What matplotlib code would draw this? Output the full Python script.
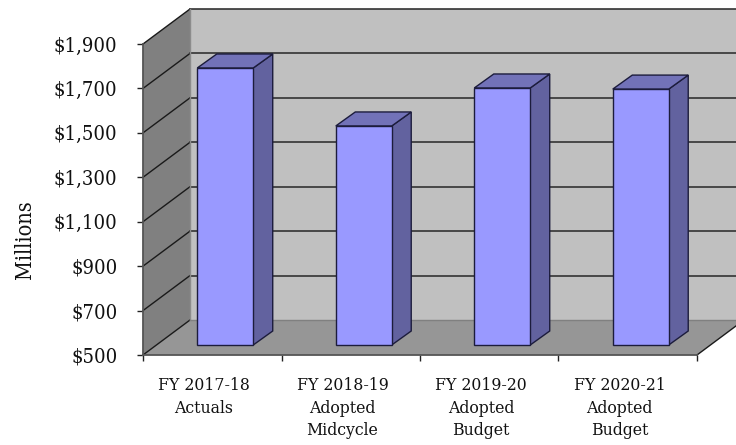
import matplotlib
matplotlib.use("Agg")
import matplotlib.pyplot as plt
from matplotlib.patches import Polygon
from matplotlib.lines import Line2D
from matplotlib.transforms import IdentityTransform

categories = ["FY 2017-18\nActuals", "FY 2018-19\nAdopted\nMidcycle",
              "FY 2019-20\nAdopted\nBudget", "FY 2020-21\nAdopted\nBudget"]
values = [1747, 1486, 1657, 1652]
y_ticks = [500, 700, 900, 1100, 1300, 1500, 1700, 1900]

W, H = 736, 445
# depth of the fake 3d box and of the bars, in pixels
box_dx, box_dy = 47, 35
bar_off_x, bar_off_y = 13, 10
bar_dx, bar_dy = 19.5, 14
bar_width = 0.404

plt.rcParams["font.family"] = ["DejaVu Serif"]
plt.rcParams["font.stretch"] = "condensed"

fig = plt.figure(figsize=(W / 100, H / 100), dpi=100)
ax = fig.add_axes([143 / W, 1 - 355 / H, 554 / W, 311 / H])
ax.set_xlim(0, 4)
ax.set_ylim(500, 1900)
ax.patch.set_visible(False)
px = IdentityTransform()


def pt(x, v, dx=0, dy=0):
    # data position pushed back by a pixel offset
    a, b = ax.transData.transform((x, v))
    return (a + dx, b + dy)


def face(pts, color, edge="none", lw=0.0, z=1):
    ax.add_patch(Polygon(pts, closed=True, facecolor=color, edgecolor=edge, linewidth=lw,
                         transform=px, clip_on=False, zorder=z))


def line(p, q, color, lw=1.0, z=2):
    ax.add_line(Line2D([p[0], q[0]], [p[1], q[1]], color=color, linewidth=lw,
                       transform=px, clip_on=False, zorder=z))


x_far = 4.2

# back wall, left wall, floor
face([pt(0, 500, box_dx, box_dy), pt(x_far, 500, box_dx, box_dy),
      pt(x_far, 1900, box_dx, box_dy), pt(0, 1900, box_dx, box_dy)], "#c0c0c0")
face([pt(0, 500), pt(0, 500, box_dx, box_dy), pt(0, 1900, box_dx, box_dy), pt(0, 1900)], "#808080")
face([pt(0, 500), pt(4, 500), pt(4, 500, box_dx, box_dy), pt(0, 500, box_dx, box_dy)], "#969696")

# gridlines run across the left wall and the back wall
for v in y_ticks[1:]:
    line(pt(0, v), pt(0, v, box_dx, box_dy), "#1a1a1a", 1.0)
    line(pt(0, v, box_dx, box_dy), pt(x_far, v, box_dx, box_dy), "#333333", 1.2)
line(pt(0, 500), pt(0, 500, box_dx, box_dy), "#1a1a1a", 1.0)
line(pt(0, 500, box_dx, box_dy), pt(0, 1900, box_dx, box_dy), "#8c8c8c", 1.0)
line(pt(0, 500, box_dx, box_dy), pt(4, 500, box_dx, box_dy), "#808080", 1.0)
line(pt(4, 500), pt(4, 500, box_dx, box_dy), "#1a1a1a", 1.0)

# bars
for i, val in enumerate(values):
    x0 = i + 0.5 - bar_width / 2
    x1 = i + 0.5 + bar_width / 2
    ox, oy = bar_off_x, bar_off_y
    a = pt(x0, 500, ox, oy)
    b = pt(x1, 500, ox, oy)
    c = pt(x1, val, ox, oy)
    d = pt(x0, val, ox, oy)
    shift = lambda p: (p[0] + bar_dx, p[1] + bar_dy)
    edge = "#1c1c3c"
    face([b, shift(b), shift(c), c], "#62629f", edge, 1.0, 3)
    face([d, c, shift(c), shift(d)], "#7272b8", edge, 1.0, 3)
    face([a, b, c, d], "#9999ff", edge, 1.0, 4)

# axes
for side in ("top", "right"):
    ax.spines[side].set_visible(False)
for side in ("left", "bottom"):
    ax.spines[side].set_color("#555555")
    ax.spines[side].set_linewidth(1.3)
    ax.spines[side].set_zorder(2)
ax.set_yticks(y_ticks)
ax.set_yticklabels([f"${v:,}" for v in y_ticks])
ax.set_xticks(range(5))
ax.set_xticklabels([])
ax.tick_params(axis="both", length=4.4, width=1.0, color="#222222", labelcolor="#111111")
ax.tick_params(axis="y", labelsize=14.5, pad=14)
# labels sit a little left of the category centres in the reference
ax.set_xticks([i + 0.44 for i in range(4)], minor=True)
ax.set_xticklabels(categories, minor=True, fontsize=12.6, linespacing=1.46)
ax.tick_params(axis="x", which="minor", length=0, pad=15.5, labelcolor="#111111")
ax.set_ylabel("Millions", fontsize=15.5, color="#111111")
ax.yaxis.set_label_coords(36 / W, 1 - 240 / H, transform=fig.transFigure)

fig.savefig("out.png", dpi=100)
